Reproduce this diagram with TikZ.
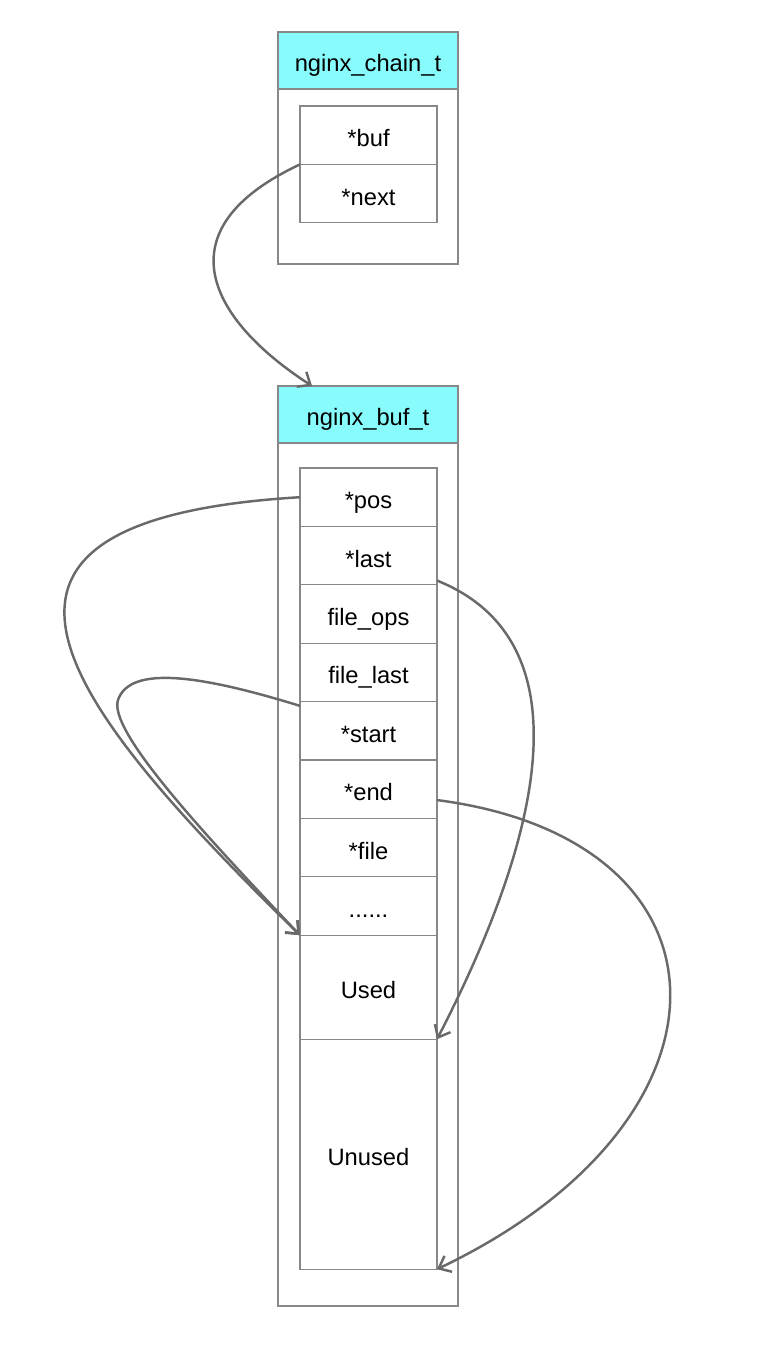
\documentclass[tikz,border=0pt]{standalone}
\usepackage{fontspec}
\setmainfont{Liberation Sans}
\usetikzlibrary{arrows.meta, positioning}
\definecolor{hdrcyan}{RGB}{136,252,252}
\definecolor{linegray}{RGB}{105,105,105}
\definecolor{boxgray}{RGB}{136,136,136}

\begin{document}
\begin{tikzpicture}[
  outer/.style={draw=boxgray, line width=0.6pt, minimum width=3.6cm, inner sep=0pt, outer sep=0pt},
  hdr/.style={outer, fill=hdrcyan, minimum height=1.14cm, text height=13pt, text depth=0pt, font=\fontsize{13.5}{16}\selectfont},
  cell/.style={draw=boxgray, line width=0.6pt, minimum width=2.74cm, minimum height=1.168cm, inner sep=0pt, outer sep=0pt, text height=13pt, text depth=0pt, font=\fontsize{13.5}{16}\selectfont},
  ptr/.style={draw=linegray, line width=1.4pt, -{Straight Barb[length=6pt,width=10pt]}}
]
  \useasboundingbox (0,0) rectangle (15.36,-27.12);

  % nginx_chain_t
  \node[outer, minimum height=4.64cm, anchor=north] (chainbox) at (7.36,-0.64) {};
  \node[hdr, anchor=north] (chainhdr) at (chainbox.north) {nginx\_chain\_t};
  \node[cell, anchor=north] (buf) at (7.37,-2.12) {*buf};
  \node[cell, below=0pt of buf] (next) {*next};

  % nginx_buf_t
  \node[outer, minimum height=18.4cm, anchor=north] (bufbox) at (7.36,-7.72) {};
  \node[hdr, anchor=north] (bufhdr) at (bufbox.north) {nginx\_buf\_t};
  \node[cell, anchor=north] (pos) at (7.37,-9.36) {*pos};
  \node[cell, below=0pt of pos] (last) {*last};
  \node[cell, below=0pt of last] (fileops) {file\_ops};
  \node[cell, below=0pt of fileops] (filelast) {file\_last};
  \node[cell, below=0pt of filelast] (start) {*start};
  \node[cell, below=0pt of start] (end) {*end};
  \node[cell, below=0pt of end] (file) {*file};
  \node[cell, below=0pt of file] (dots) {......};
  \node[cell, below=0pt of dots, minimum height=2.08cm] (used) {Used};
  \node[cell, below=0pt of used, minimum height=4.6cm] (unused) {Unused};

  % pointers
  \draw[ptr] (buf.south west) .. controls (3.2,-4.6) and (4.2,-6.4) .. (bufhdr.153);
  \draw[ptr] (pos.west) .. controls (-1.6,-10.4) and (1.2,-14.0) .. (used.north west);
  \draw[ptr] (start.160) .. controls (4.0,-13.5) and (2.6,-13.3) .. (2.36,-14.0)
    .. controls (2.16,-14.6) and (4.0,-16.6) .. (used.north west);
  \draw[ptr] (last.-20) .. controls (11.7,-12.8) and (10.9,-16.6) .. (used.south east);
  \draw[ptr] (end.-9) .. controls (14.9,-16.8) and (15.0,-22.4) .. (unused.south east);
\end{tikzpicture}
\end{document}
